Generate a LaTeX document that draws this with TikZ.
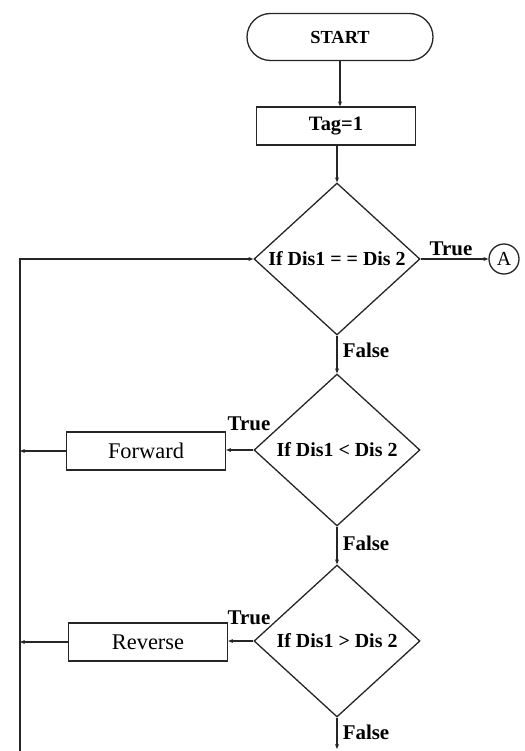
\documentclass[tikz,border=0pt]{standalone}
\usepackage{fontspec}
\setmainfont{Liberation Serif}
\usetikzlibrary{shapes.geometric,arrows.meta}

\begin{document}
\begin{tikzpicture}[x=1bp,y=-1bp,
  flow/.style={line width=1.3bp, draw=black!85},
  arr/.style={flow, -{Stealth[length=5bp,width=4bp]}},
  terminal/.style={flow, rectangle, rounded corners=23.5bp, minimum width=186bp, minimum height=47bp, inner sep=0pt, font=\fontsize{18.5}{20}\selectfont\bfseries},
  process/.style={flow, rectangle, minimum width=159bp, minimum height=38bp, inner sep=0pt, font=\fontsize{22.5}{25}\selectfont},
  decision/.style={flow, diamond, aspect=1.09, minimum width=166bp, minimum height=152bp, inner sep=0pt, font=\fontsize{20}{24}\selectfont\bfseries},
  connector/.style={flow, circle, minimum size=30bp, inner sep=0pt, font=\fontsize{20}{22}\selectfont},
  lbl/.style={inner sep=0pt, font=\fontsize{21}{24}\selectfont\bfseries}
]
\useasboundingbox (0,0) rectangle (525,751);

% main column
\node[terminal] (start) at (340,37) {START};
\node[process, font=\fontsize{20.5}{22}\selectfont\bfseries] (tag) at (336,126) {Tag=1};
\node[decision] (d1) at (337,259) {If Dis1 = = Dis 2};
\node[decision] (d2) at (337,450) {If Dis1 < Dis 2};
\node[decision] (d3) at (337,641) {If Dis1 > Dis 2};

% actions on the left
\node[process] (fwd) at (146,451) {Forward};
\node[process] (rev) at (148,642) {Reverse};

% off-page connector
\node[connector] (A) at (504,259) {A};

% loop-back rail
\coordinate (railtop) at (20,259);
\coordinate (railbot) at (20,751);
\coordinate (railF) at (20,451);
\coordinate (railR) at (20,642);
\coordinate (exit) at (337,749);

\draw[arr] (start.south) -- (start.south |- tag.north);
\draw[arr] (tag.south -| d1.north) -- (d1.north);
\draw[arr] (d1.south) -- (d2.north);
\draw[arr] (d2.south) -- (d3.north);
\draw[arr] (d3.south) -- (exit);

\draw[arr] (d1.east) -- (A.west);
\draw[arr] (railbot) -- (railtop) -- (d1.west);

\draw[arr] (d2.west) -- (fwd.east |- d2.west);
\draw[arr] (fwd.west) -- (railF);
\draw[arr] (d3.west) -- (rev.east |- d3.west);
\draw[arr] (rev.west) -- (railR);

% branch labels
\node[lbl] at (451,249) {True};
\node[lbl] at (366,350) {False};
\node[lbl] at (249,424) {True};
\node[lbl] at (366,543) {False};
\node[lbl] at (249,618) {True};
\node[lbl] at (366,732) {False};
\end{tikzpicture}
\end{document}
